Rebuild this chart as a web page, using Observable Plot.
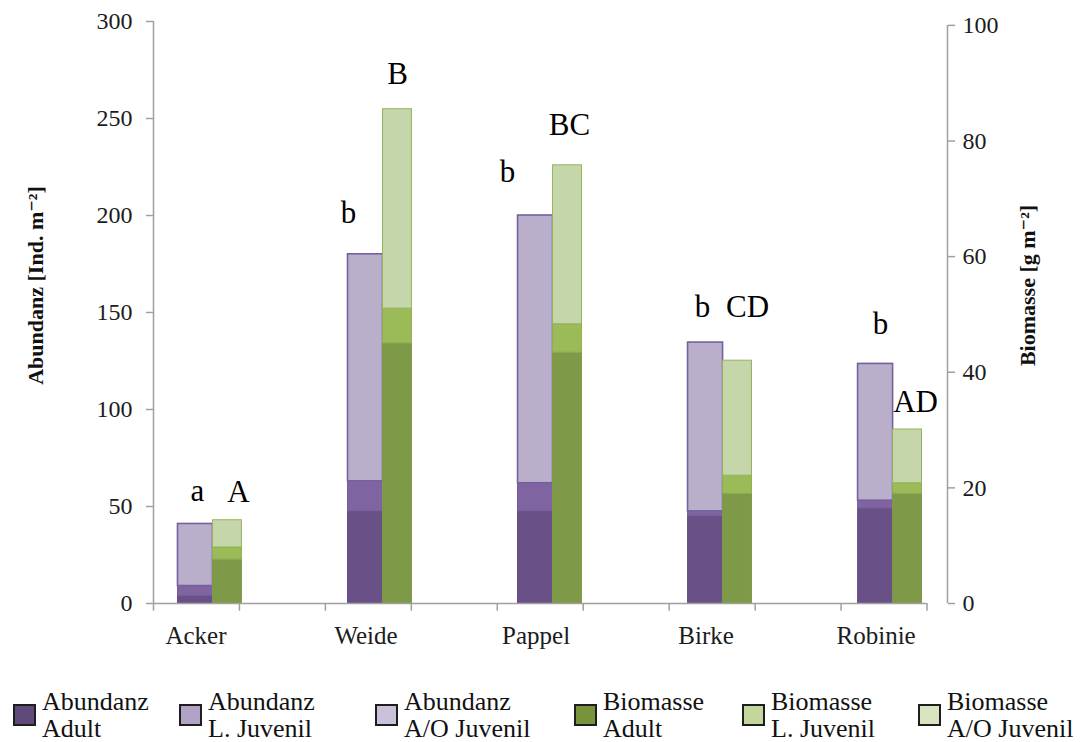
<!DOCTYPE html>
<html><head><meta charset="utf-8">
<script src="https://cdn.jsdelivr.net/npm/d3@7"></script>
<script src="https://cdn.jsdelivr.net/npm/@observablehq/plot@0.6"></script>
<style>
body{margin:0;background:#fff;font-family:'Liberation Serif','DejaVu Serif',serif;}
#wrap{position:relative;width:1082px;height:742px;overflow:hidden;}
#chart{position:absolute;left:0;top:0;}
.lg-sw{position:absolute;width:19px;height:18px;border:2px solid #1e1e1e;}
.lg-tx{position:absolute;font-size:26px;line-height:27px;color:#111;white-space:nowrap;}
</style></head><body>
<div id="wrap"><div id="chart"></div><div id="legend"></div></div>
<script>
// ---- data ----
const categories = ["Acker", "Weide", "Pappel", "Birke", "Robinie"];
const abundAdult = [4, 47.5, 47.5, 45, 49];
const abundLJuv = [5, 15.5, 14.5, 2.5, 4];
const abundAOJuv = [32, 117, 138, 87, 70.5];
const bioAdult = [7.6, 45, 43.4, 19, 19];
const bioLJuv = [2.1, 6, 4.9, 3.1, 1.8];
const bioAOJuv = [4.7, 34.5, 27.5, 19.9, 9.3];
const abundLetters = ["a", "b", "b", "b", "b"];
const bioLetters = ["A", "B", "BC", "CD", "AD"];
const leftTicks = [0, 50, 100, 150, 200, 250, 300];
const rightTicks = [0, 20, 40, 60, 80, 100];
const seriesNames = ["Abundanz|Adult", "Abundanz|L. Juvenil", "Abundanz|A/O Juvenil",
                     "Biomasse|Adult", "Biomasse|L. Juvenil", "Biomasse|A/O Juvenil"];

// ---- styles / layout ----
const barFill = ["#695087", "#8064a2", "#b9afcb", "#7e9a48", "#9bbb59", "#c6d6ab"];
const barStroke = ["#695087", "#775d99", "#7461a0", "#7e9a48", "#8fb050", "#95b35e"];
const legendFill = ["#604a7b", "#b3a2c7", "#ccc1da", "#77933c", "#c3d69b", "#d7e4bd"];
// hand placement nudges (px) of the significance letters, as in the original figure
const abundNudgeX = [2, -17, -28, -3, 5], abundNudgeY = [4, -4, -6, 2, -3];
const bioNudgeX = [11, 0, 2, 10, 8], bioNudgeY = [7, 0, -5, -19, 8];
const factor = 2.98; // biomass -> left axis units

const groups = [
  {vals: [abundAdult, abundLJuv, abundAOJuv], s: 0, scale: 1, x1: -0.106, x2: 0.1},
  {vals: [bioAdult, bioLJuv, bioAOJuv], s: 3, scale: factor, x1: 0.1, x2: 0.27}
];
const rows = [];
const totals = [[], []];
groups.forEach((g, gi) => {
  categories.forEach((c, i) => {
    let acc = 0;
    g.vals.forEach((arr, k) => {
      const v = arr[i] * g.scale;
      rows.push({i, s: g.s + k, y1: acc, y2: acc + v, x1: i + g.x1, x2: i + g.x2});
      acc += v;
    });
    totals[gi].push({i, total: acc, cx: i + (g.x1 + g.x2) / 2});
  });
});

const xTicks = d3.range(10).map(k => -0.25 + k * 0.5055);
const axisColor = "#a0a0a0";
const font = "'Liberation Serif', 'DejaVu Serif', serif";

const letterMarks = [];
totals[0].forEach(d => letterMarks.push(Plot.text([d], {x: "cx", y: "total", text: () => abundLetters[d.i],
  dx: abundNudgeX[d.i], dy: -37 + abundNudgeY[d.i], fontSize: 31, fontFamily: font, fill: "#000"})));
totals[1].forEach(d => letterMarks.push(Plot.text([d], {x: "cx", y: "total", text: () => bioLetters[d.i],
  dx: bioNudgeX[d.i], dy: -35 + bioNudgeY[d.i], fontSize: 31, fontFamily: font, fill: "#000"})));

const chart = Plot.plot({
  width: 1082, height: 672,
  marginLeft: 153, marginRight: 135, marginTop: 21, marginBottom: 69,
  style: {fontFamily: font, color: "#1c1c1c", background: "#fff"},
  x: {type: "linear", domain: [-0.25, 4.42], axis: null},
  y: {domain: [0, 300], axis: null},
  marks: [
    Plot.rectY(rows, {x1: "x1", x2: "x2", y1: "y1", y2: "y2",
      fill: d => barFill[d.s], stroke: d => barStroke[d.s], strokeWidth: d => d.s === 2 ? 1.6 : 1}),
    // left axis
    Plot.ruleX([-0.25], {y1: 0, y2: 300, stroke: axisColor, strokeWidth: 1.5}),
    Plot.axisY({anchor: "left", ticks: leftTicks, tickSize: 7, tickPadding: 14, fontSize: 24,
      stroke: axisColor, strokeWidth: 1.5, fontFamily: font}),
    // right axis
    Plot.ruleX([4.42], {y1: 0, y2: 100 * factor, stroke: axisColor, strokeWidth: 1.5}),
    Plot.axisY({anchor: "right", ticks: rightTicks.map(v => v * factor), tickFormat: v => Math.round(v / factor),
      tickSize: 7, tickPadding: 8, fontSize: 24, stroke: axisColor, strokeWidth: 1.5, fontFamily: font}),
    // x axis
    Plot.ruleY([0], {x1: -0.25, x2: 4.3, stroke: axisColor, strokeWidth: 1.5}),
    Plot.ruleX(xTicks, {y1: 0, y2: -4, stroke: axisColor, strokeWidth: 1.5}),
    Plot.text(categories, {x: (d, i) => i, y: 0, dy: 32, text: d => d, fontSize: 25, fontFamily: font, fill: "#1c1c1c"}),
    // significance letters
    ...letterMarks,
    // axis titles
    Plot.text(["Abundanz [Ind. m\u207B\u00B2]"], {frameAnchor: "left", textAnchor: "middle", dx: -118, dy: -27, rotate: -90, fontSize: 22, fontWeight: "bold", fontFamily: font, fill: "#111"}),
    Plot.text(["Biomasse [g m\u207B\u00B2]"], {frameAnchor: "right", textAnchor: "middle", dx: 80, dy: -27, rotate: -90, fontSize: 22, fontWeight: "bold", fontFamily: font, fill: "#111"})
  ]
});
document.getElementById("chart").appendChild(chart);

// ---- legend ----
const legendX = [13, 179, 375, 574, 742, 918];
const lg = document.getElementById("legend");
seriesNames.forEach((name, k) => {
  const sw = document.createElement("div");
  sw.className = "lg-sw";
  sw.style.left = legendX[k] + "px";
  sw.style.top = "704px";
  sw.style.background = legendFill[k];
  lg.appendChild(sw);
  const tx = document.createElement("div");
  tx.className = "lg-tx";
  tx.style.left = (legendX[k] + 29) + "px";
  tx.style.top = "688px";
  tx.innerHTML = name.split("|").join("<br>");
  lg.appendChild(tx);
});
</script>
</body></html>
